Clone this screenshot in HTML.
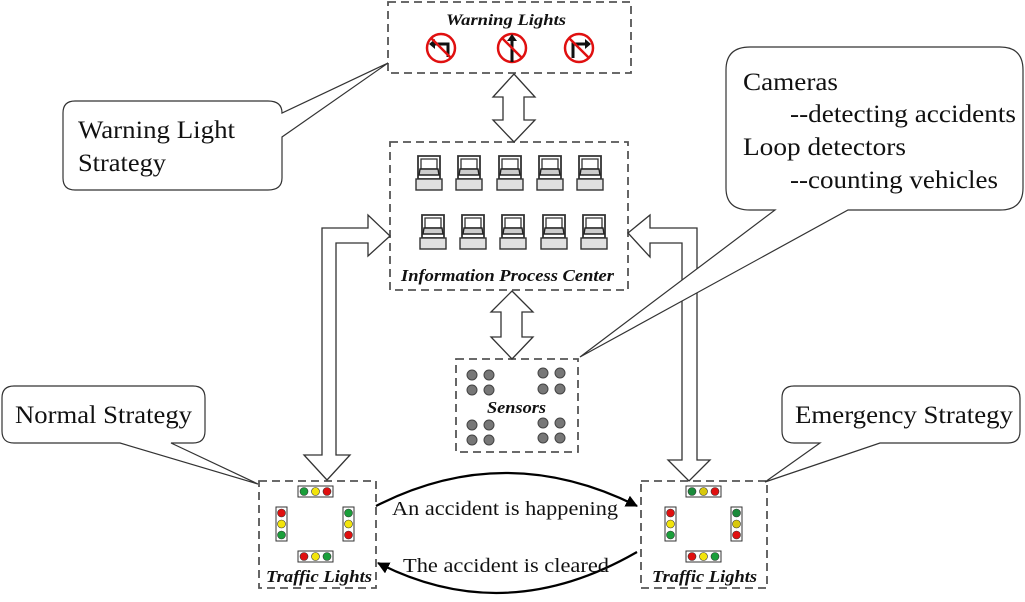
<!DOCTYPE html>
<html><head><meta charset="utf-8"><style>
html,body{margin:0;padding:0;background:#fff;}
svg{display:block;}
text{font-family:"Liberation Serif",serif;fill:#111;}
.bi{font-weight:bold;font-style:italic;}
</style></head><body>
<svg width="1025" height="602" viewBox="0 0 1025 602" xmlns="http://www.w3.org/2000/svg">
<defs>
<g id="pc">
  <path d="M3,1 h22 v23 h-22 z" fill="#fff" stroke="#333" stroke-width="1.8"/>
  <path d="M6,4 h16 v10 h-16 z" fill="#fff" stroke="#333" stroke-width="1.3"/>
  <path d="M5,14 h18 l1,6 h-20 z" fill="#ccc" stroke="#222" stroke-width="1.4"/>
  <rect x="1" y="24" width="26" height="11" fill="#e0e0e0" stroke="#333" stroke-width="1.4"/>
</g>
<marker id="ah" markerWidth="12" markerHeight="12" refX="11" refY="6" orient="auto" markerUnits="userSpaceOnUse">
  <path d="M0,0 L12,6 L0,12 z" fill="#000"/>
</marker>
</defs>

<g fill="none" stroke="#555" stroke-width="1.8" stroke-dasharray="8,5">
<rect x="388" y="2" width="243" height="71"/>
<rect x="390" y="142" width="238" height="148"/>
<rect x="456" y="359" width="122" height="93"/>
<rect x="259" y="481" width="117" height="107"/>
<rect x="641" y="481" width="126" height="107"/>
</g>

<text x="446" y="25" font-size="16" textLength="120" lengthAdjust="spacingAndGlyphs" class="bi">Warning Lights</text>
<g fill="none" stroke="#e01010" stroke-width="2.5">
<circle cx="441" cy="48" r="14"/><circle cx="512" cy="48" r="14"/><circle cx="579" cy="48" r="14"/>
</g>
<g stroke="#111" stroke-width="3" fill="none">
<path d="M448,57 V44 H432"/><path d="M512,62 V38"/><path d="M573,58 V44 H588"/>
</g>
<g fill="#111"><path d="M429,44 l6,-5 v10 z"/><path d="M512,34 l-5,7 h10 z"/><path d="M591,44 l-6,-5 v10 z"/></g>
<g stroke="#e01010" stroke-width="2.5"><path d="M431,38 L451,58"/><path d="M502,38 L522,58"/><path d="M569,38 L589,58"/></g>

<g>
<use href="#pc" x="415" y="155"/><use href="#pc" x="455" y="155"/><use href="#pc" x="496" y="155"/><use href="#pc" x="536" y="155"/><use href="#pc" x="576" y="155"/>
<use href="#pc" x="419" y="214"/><use href="#pc" x="459" y="214"/><use href="#pc" x="499" y="214"/><use href="#pc" x="540" y="214"/><use href="#pc" x="580" y="214"/>
</g>
<text x="401" y="281" font-size="17" textLength="213" lengthAdjust="spacingAndGlyphs" class="bi">Information Process Center</text>

<g fill="#777" stroke="#444" stroke-width="1">
<circle cx="472" cy="375" r="5"/><circle cx="489" cy="375" r="5"/><circle cx="472" cy="390" r="5"/><circle cx="489" cy="390" r="5"/>
<circle cx="543" cy="373" r="5"/><circle cx="560" cy="373" r="5"/><circle cx="543" cy="389" r="5"/><circle cx="560" cy="389" r="5"/>
<circle cx="472" cy="425" r="5"/><circle cx="489" cy="425" r="5"/><circle cx="472" cy="440" r="5"/><circle cx="489" cy="440" r="5"/>
<circle cx="543" cy="423" r="5"/><circle cx="560" cy="423" r="5"/><circle cx="543" cy="438" r="5"/><circle cx="560" cy="438" r="5"/>
</g>
<text x="487" y="413" font-size="17" textLength="59" lengthAdjust="spacingAndGlyphs" class="bi">Sensors</text>

<g fill="#fff" stroke="#333" stroke-width="1.3">
<path d="M514,74 L535,97 H524 V120 H535 L514,142 L493,120 H503 V97 H493 Z"/>
<path d="M512,291 L533,312 H522 V337 H533 L512,359 L491,337 H501 V312 H491 Z"/>
<path d="M390,236 L368,215 V228 H322 V455 H304 L327,480 L350,455 H336 V243 H368 V256 Z"/>
<path d="M628,233 L650,215 V228 H697 V460 H710 L689,481 L668,460 H682 V243 H650 V257 Z"/>
</g>

<g stroke="#333" stroke-width="1" fill="#fff">
<rect x="298" y="486" width="35" height="11"/><rect x="276" y="507" width="11" height="34"/><rect x="343" y="507" width="11" height="34"/><rect x="298" y="551" width="35" height="11"/>
<rect x="686" y="486" width="35" height="11"/><rect x="665" y="507" width="11" height="34"/><rect x="731" y="507" width="11" height="34"/><rect x="686" y="551" width="35" height="11"/>
</g>
<g stroke="#333" stroke-width="0.6">
<circle cx="304" cy="491.5" r="4" fill="#1a9e3a"/><circle cx="315.5" cy="491.5" r="4" fill="#f2e40c"/><circle cx="327" cy="491.5" r="4" fill="#e01010"/>
<circle cx="281.5" cy="513" r="4" fill="#e01010"/><circle cx="281.5" cy="524" r="4" fill="#f2e40c"/><circle cx="281.5" cy="535" r="4" fill="#1a9e3a"/>
<circle cx="348.5" cy="513" r="4" fill="#1a9e3a"/><circle cx="348.5" cy="524" r="4" fill="#f2e40c"/><circle cx="348.5" cy="535" r="4" fill="#e01010"/>
<circle cx="304" cy="556.5" r="4" fill="#e01010"/><circle cx="315.5" cy="556.5" r="4" fill="#f2e40c"/><circle cx="327" cy="556.5" r="4" fill="#1a9e3a"/>
<circle cx="692" cy="491.5" r="4" fill="#1a8a3a"/><circle cx="703.5" cy="491.5" r="4" fill="#d8c80c"/><circle cx="715" cy="491.5" r="4" fill="#e01010"/>
<circle cx="670.5" cy="513" r="4" fill="#e01010"/><circle cx="670.5" cy="524" r="4" fill="#f2e40c"/><circle cx="670.5" cy="535" r="4" fill="#1a9e3a"/>
<circle cx="736.5" cy="513" r="4" fill="#1a8a3a"/><circle cx="736.5" cy="524" r="4" fill="#d8c80c"/><circle cx="736.5" cy="535" r="4" fill="#e01010"/>
<circle cx="692" cy="556.5" r="4" fill="#e01010"/><circle cx="703.5" cy="556.5" r="4" fill="#f2e40c"/><circle cx="715" cy="556.5" r="4" fill="#1a9e3a"/>
</g>
<text x="266" y="582" font-size="17" textLength="106" lengthAdjust="spacingAndGlyphs" class="bi">Traffic Lights</text>
<text x="652" y="582" font-size="17" textLength="105" lengthAdjust="spacingAndGlyphs" class="bi">Traffic Lights</text>

<g fill="none" stroke="#000" stroke-width="2.2">
<path d="M376,506 Q505,440 637,506" marker-end="url(#ah)"/>
<path d="M637,552 Q505,628 378,563" marker-end="url(#ah)"/>
</g>
<text x="392" y="515" font-size="20" textLength="226" lengthAdjust="spacingAndGlyphs">An accident is happening</text>
<text x="403" y="572" font-size="20" textLength="206" lengthAdjust="spacingAndGlyphs">The accident is cleared</text>

<g fill="#fff" stroke="#333" stroke-width="1.2">
<path d="M75,101 H268 Q282,101 282,113 L388,63 L282,137 V178 Q282,190 268,190 H75 Q63,190 63,178 V113 Q63,101 75,101 Z"/>
<path d="M14,386 H193 Q205,386 205,398 V431 Q205,443 193,443 H171 L258,484 L120,443 H14 Q2,443 2,431 V398 Q2,386 14,386 Z"/>
<path d="M794,386 H1008 Q1020,386 1020,398 V431 Q1020,443 1008,443 H880 L765,482 L820,443 H794 Q782,443 782,431 V398 Q782,386 794,386 Z"/>
<path d="M750,47 H1000 Q1023,47 1023,70 V188 Q1023,210 1000,210 H848 L580,357 L775,210 H750 Q726,210 726,188 V70 Q726,47 750,47 Z"/>
</g>
<g font-size="25">
<text x="78" y="138" textLength="157" lengthAdjust="spacingAndGlyphs">Warning Light</text>
<text x="78" y="171" textLength="88" lengthAdjust="spacingAndGlyphs">Strategy</text>
<text x="15" y="423" textLength="177" lengthAdjust="spacingAndGlyphs">Normal Strategy</text>
<text x="795" y="423" textLength="218" lengthAdjust="spacingAndGlyphs">Emergency Strategy</text>
<text x="743" y="90" textLength="95" lengthAdjust="spacingAndGlyphs">Cameras</text>
<text x="790" y="122" textLength="226" lengthAdjust="spacingAndGlyphs">--detecting accidents</text>
<text x="743" y="155" textLength="163" lengthAdjust="spacingAndGlyphs">Loop detectors</text>
<text x="790" y="188" textLength="208" lengthAdjust="spacingAndGlyphs">--counting vehicles</text>
</g>
</svg>
</body></html>
